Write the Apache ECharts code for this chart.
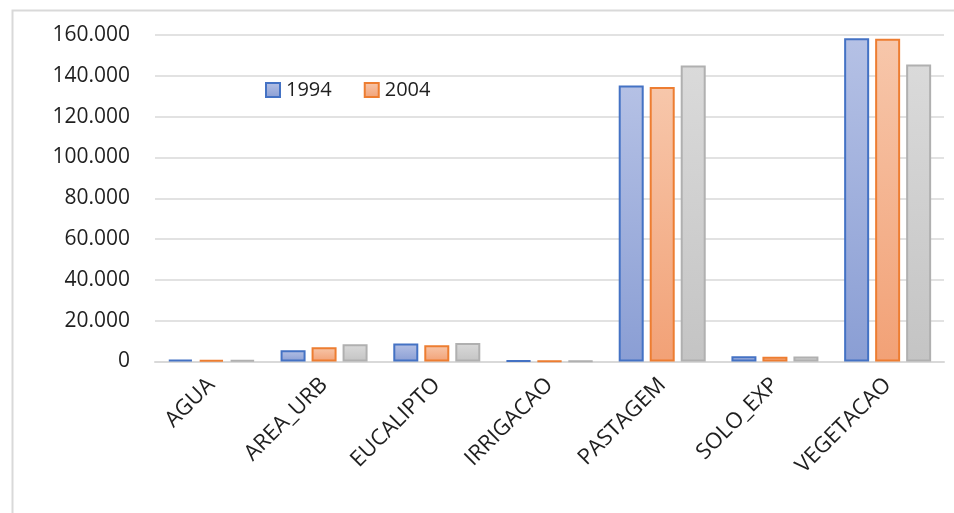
<!DOCTYPE html>
<html>
<head>
<meta charset="utf-8">
<script src="https://cdn.jsdelivr.net/npm/echarts@6/dist/echarts.min.js"></script>
<style>
html,body{margin:0;padding:0;background:#fff;}
#chart{width:954px;height:513px;}
</style>
</head>
<body>
<div id="chart"></div>
<script>
var categories = ['AGUA', 'AREA_URB', 'EUCALIPTO', 'IRRIGACAO', 'PASTAGEM', 'SOLO_EXP', 'VEGETACAO'];
var seriesNames = ['1994', '2004', 'Série 3'];
var values1994 = [900, 5500, 8800, 400, 135200, 2600, 158400];
var values2004 = [800, 7000, 8000, 350, 134500, 2300, 158200];
var values3 = [700, 8400, 9100, 300, 145100, 2400, 145600];
var yTicks = [0, 20000, 40000, 60000, 80000, 100000, 120000, 140000, 160000];

var FONT = '"Open Sans", "Noto Sans", sans-serif';
function fmt(v) { return String(v).replace(/\B(?=(\d{3})+(?!\d))/g, '.'); }
function grad(top, bottom) {
  return new echarts.graphic.LinearGradient(0, 0, 0, 1, [
    { offset: 0, color: top }, { offset: 1, color: bottom }
  ]);
}
var styles = [
  { fill: grad('#b5c1e5', '#8a9ed4'), border: '#4472c4' },
  { fill: grad('#f7c7ab', '#f2a176'), border: '#ed7d31' },
  { fill: grad('#dadada', '#c4c4c4'), border: '#b0b0b0' }
];
var dataSets = [values1994, values2004, values3];

var chart = echarts.init(document.getElementById('chart'), null, { renderer: 'canvas' });
chart.setOption({
  animation: false,
  backgroundColor: '#ffffff',
  graphic: [{
    type: 'rect', left: 10, top: 8, silent: true,
    shape: { x: 0, y: 0, width: 980, height: 540 },
    style: { fill: 'none', stroke: '#d9d9d9', lineWidth: 2 }
  }],
  legend: {
    data: ['1994', '2004'],
    left: 260, top: 75,
    icon: 'rect', itemWidth: 14, itemHeight: 14, itemGap: 32,
    textStyle: { fontFamily: FONT, fontSize: 20, color: '#1f1f1f', padding: [0, 0, 0, 1] }
  },
  grid: { left: 155, right: 10, top: 35, bottom: 151.5 },
  xAxis: {
    type: 'category',
    data: categories,
    axisLine: { lineStyle: { color: '#d9d9d9', width: 2 } },
    axisTick: { show: false },
    axisLabel: {
      rotate: 45, margin: 20, interval: 0,
      fontFamily: FONT, fontSize: 22, color: '#1f1f1f'
    }
  },
  yAxis: {
    type: 'value', min: 0, max: 160000, interval: 20000,
    axisLine: { show: false },
    axisTick: { show: false },
    splitLine: { lineStyle: { color: '#e2e2e2', width: 2 } },
    axisLabel: {
      margin: 25, fontFamily: FONT, fontSize: 21, color: '#1f1f1f',
      formatter: function (v) { return fmt(v); }
    }
  },
  series: dataSets.map(function (d, i) {
    return {
      name: seriesNames[i],
      type: 'bar',
      data: d,
      barWidth: 25,
      barGap: '24%',
      itemStyle: { color: styles[i].fill, borderColor: styles[i].border, borderWidth: 2 }
    };
  })
});
</script>
</body>
</html>
